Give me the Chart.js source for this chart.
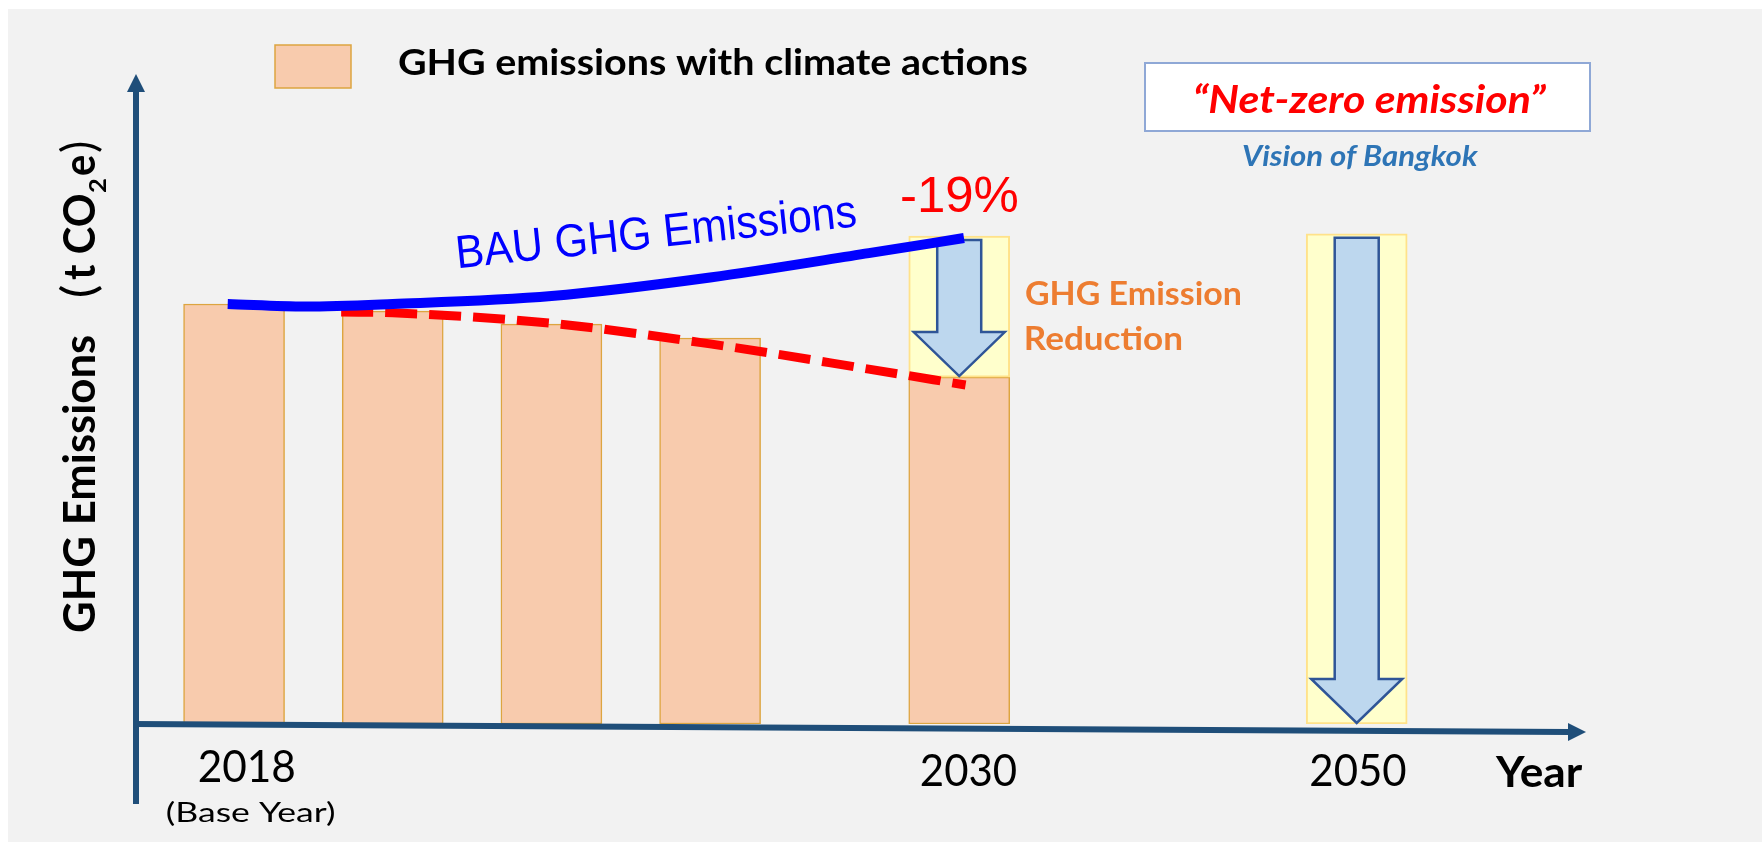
<!DOCTYPE html>
<html><head><meta charset="utf-8">
<script src="https://cdn.jsdelivr.net/npm/chart.js@4.4.1/dist/chart.umd.min.js"></script>
<style>html,body{margin:0;padding:0;background:#fff;overflow:hidden}canvas{display:block}</style>
</head><body>
<canvas id="c" width="1762" height="842"></canvas>
<script>
// ---- data (schematic units: 2018 base year = 100) ----
const barLabel = 'GHG emissions with climate actions';
const barPositions = [0, 1, 2, 3, 4.57];
const barValues = [100, 98.3, 95.2, 91.9, 82.6];
const reductionPositions = [4.57, 7.075];
const reductionLow = [82.6, 0];
const reductionHigh = [116.2, 116.7];
const bauLabel = 'BAU GHG Emissions';
const bauPositions = [-0.04, 0.45, 1, 2, 3, 4, 4.6];
const bauValues = [100, 99.4, 100, 101.9, 106.3, 112.1, 115.7];
const actionPositions = [0.675, 1, 2, 3, 4, 4.61];
const actionValues = [98.1, 97.9, 95.4, 90.5, 84.5, 80.7];
const tickPositions = [0, 4.57, 7.075];
const tickLabels = ['2018', '2030', '2050'];
const baseYearNote = '(Base Year)';
const xTitle = 'Year';
const yTitleMain = 'GHG Emissions';
const reductionText = ['GHG Emission', 'Reduction'];
const reductionPct = '-19%';
const visionQuote = '\u201cNet-zero emission\u201d';
const visionCaption = 'Vision of Bangkok';

// ---- helpers ----
function fitText(ctx, str, o) {
  ctx.save();
  const fam = o.family || 'Lato';
  const fs = s => `${o.style || 'normal'} ${o.weight || 'normal'} ${s}px ${fam}`;
  let size = o.size;
  if (!size) {
    ctx.font = fs(100);
    const capRef = ctx.measureText(o.capChar || 'H').actualBoundingBoxAscent;
    size = o.cap / capRef * 100;
  }
  ctx.font = fs(size);
  const m = ctx.measureText(str);
  const inkW = m.actualBoundingBoxLeft + m.actualBoundingBoxRight;
  const sx = o.w ? o.w / inkW : 1;
  let left = o.x;
  if (o.align === 'center') left = o.x - (o.w || inkW) / 2;
  ctx.translate(left, o.y);
  if (o.angle) ctx.rotate(o.angle);
  ctx.scale(sx, 1);
  ctx.fillStyle = o.color || '#000';
  ctx.textBaseline = 'alphabetic';
  ctx.textAlign = 'left';
  ctx.fillText(str, m.actualBoundingBoxLeft, 0);
  ctx.restore();
  return { size, width: inkW * sx };
}

function drawDownArrow(ctx, cx, top, tip) {
  const shaftHalf = 22, headHalf = 45.5, headH = 44;
  ctx.save();
  ctx.beginPath();
  ctx.moveTo(cx - shaftHalf, top);
  ctx.lineTo(cx + shaftHalf, top);
  ctx.lineTo(cx + shaftHalf, tip - headH);
  ctx.lineTo(cx + headHalf, tip - headH);
  ctx.lineTo(cx, tip);
  ctx.lineTo(cx - headHalf, tip - headH);
  ctx.lineTo(cx - shaftHalf, tip - headH);
  ctx.closePath();
  ctx.fillStyle = '#BDD7EE';
  ctx.fill();
  ctx.lineWidth = 2.5;
  ctx.strokeStyle = '#2F5597';
  ctx.lineJoin = 'miter';
  ctx.stroke();
  ctx.restore();
}

const AXIS = '#1F4E79';

const decor = {
  id: 'decor',
  beforeDraw(chart) {
    const ctx = chart.ctx;
    ctx.save();
    ctx.fillStyle = '#ffffff';
    ctx.fillRect(0, 0, chart.width, chart.height);
    ctx.fillStyle = '#F2F2F2';
    ctx.fillRect(8, 9, chart.width - 8, chart.height - 9);
    ctx.restore();
  },
  afterDatasetDraw(chart, args) {
    const ds = chart.data.datasets[args.index];
    if (ds.id !== 'reduction') return;
    const ctx = chart.ctx;
    args.meta.data.forEach(el => {
      const top = Math.min(el.y, el.base);
      const bot = Math.max(el.y, el.base);
      drawDownArrow(ctx, el.x, top + 4, bot - 1);
    });
  },
  afterDatasetsDraw(chart) {
    const ctx = chart.ctx;
    const a = chart.chartArea;
    ctx.save();
    ctx.fillStyle = AXIS;
    ctx.strokeStyle = AXIS;
    // y axis
    ctx.lineWidth = 6;
    ctx.beginPath();
    ctx.moveTo(a.left, 91);
    ctx.lineTo(a.left, 804);
    ctx.stroke();
    ctx.beginPath();
    ctx.moveTo(a.left, 74);
    ctx.lineTo(a.left + 9, 92);
    ctx.lineTo(a.left - 9, 92);
    ctx.closePath();
    ctx.fill();
    // x axis (slightly sloped as in the reference)
    ctx.beginPath();
    ctx.moveTo(a.left - 3, a.bottom);
    ctx.lineTo(a.right - 17, a.bottom + 8);
    ctx.stroke();
    ctx.beginPath();
    ctx.moveTo(a.right, a.bottom + 8);
    ctx.lineTo(a.right - 18, a.bottom - 1);
    ctx.lineTo(a.right - 18, a.bottom + 17);
    ctx.closePath();
    ctx.fill();
    ctx.restore();
  },
  afterDraw(chart) {
    const ctx = chart.ctx;
    const xs = chart.scales.x;
    // legend
    ctx.save();
    ctx.fillStyle = '#F8CBAD';
    ctx.fillRect(275, 45, 76, 43);
    ctx.strokeStyle = '#DDA540';
    ctx.lineWidth = 1.5;
    ctx.strokeRect(275, 45, 76, 43);
    ctx.restore();
    fitText(ctx, chart.data.datasets[0].label, { x: 399, y: 75, w: 628, cap: 26, weight: 'bold' });

    // vision box
    ctx.save();
    ctx.fillStyle = '#ffffff';
    ctx.fillRect(1145, 63, 445, 68);
    ctx.strokeStyle = '#8FA8D6';
    ctx.lineWidth = 2;
    ctx.strokeRect(1145, 63, 445, 68);
    ctx.restore();
    fitText(ctx, visionQuote, { x: 1195, y: 113, w: 351, cap: 27, weight: 'bold', style: 'italic', color: '#FF0000' });
    fitText(ctx, visionCaption, { x: 1243, y: 166, w: 236, cap: 21, weight: 'bold', style: 'italic', color: '#2E75B6' });

    // reduction note
    fitText(ctx, reductionText[0], { x: 1026, y: 305, w: 214, cap: 23, weight: 'bold', color: '#ED7D31' });
    fitText(ctx, reductionText[1], { x: 1026, y: 350, w: 155, cap: 23, weight: 'bold', color: '#ED7D31' });
    fitText(ctx, reductionPct, { x: 902, y: 212, w: 116, cap: 34, family: 'Liberation Sans', color: '#FF0000' });

    // BAU label
    fitText(ctx, chart.data.datasets[3].label, { x: 460, y: 268, w: 399, cap: 32, family: 'Liberation Sans', color: '#0000FF', angle: -6 * Math.PI / 180 });

    // x tick labels
    const nudges = [13, 10, 2];
    const bases = [782, 786, 786];
    tickLabels.forEach((t, i) => {
      const cx = xs.getPixelForValue(tickPositions[i]) + nudges[i];
      fitText(ctx, t, { x: cx, y: bases[i], w: 95, cap: 32, align: 'center' });
    });
    fitText(ctx, baseYearNote, { x: xs.getPixelForValue(tickPositions[0]) + 17, y: 822, w: 168, cap: 20, align: 'center' });
    fitText(ctx, xTitle, { x: 1495, y: 787, w: 88, cap: 30, weight: 'bold' });

    // y title (rotated)
    const R = -Math.PI / 2;
    const main = fitText(ctx, yTitleMain, { x: 95, y: 632, w: 296, cap: 32, weight: 'bold', angle: R });
    fitText(ctx, '(', { x: 95, y: 296, w: 10, size: main.size * 1.05, angle: R });
    fitText(ctx, 't CO', { x: 95, y: 280, w: 85, cap: 32, weight: 'bold', angle: R });
    fitText(ctx, '2', { x: 106, y: 193, w: 14, cap: 16, weight: 'bold', angle: R });
    fitText(ctx, 'e', { x: 95, y: 175, w: 20, size: main.size, weight: 'bold', angle: R });
    fitText(ctx, ')', { x: 95, y: 152, w: 10, size: main.size * 1.05, angle: R });
  }
};

const pts = (xs, ys) => xs.map((x, i) => ({ x, y: ys[i] }));

new Chart(document.getElementById('c'), {
  type: 'bar',
  data: {
    datasets: [
      {
        id: 'bars', label: barLabel,
        data: pts(barPositions, barValues),
        backgroundColor: '#F8CBAD', borderColor: '#DDA540', borderWidth: 1.5,
        borderSkipped: false, barThickness: 101, grouped: false, order: 4
      },
      {
        id: 'reduction', label: 'Reduction',
        data: reductionPositions.map((x, i) => ({ x, y: [reductionLow[i], reductionHigh[i]] })),
        backgroundColor: '#FFFFCC', borderColor: '#FFE28A', borderWidth: 2,
        borderSkipped: false, barThickness: 101, grouped: false, order: 3
      },
      {
        id: 'action', type: 'line', label: 'Pathway with climate actions',
        data: pts(actionPositions, actionValues),
        borderColor: '#FF0000', borderWidth: 9, borderDash: [32, 12], borderCapStyle: 'butt',
        pointRadius: 0, fill: false, cubicInterpolationMode: 'monotone', order: 2
      },
      {
        id: 'bau', type: 'line', label: bauLabel,
        data: pts(bauPositions, bauValues),
        borderColor: '#0000FF', borderWidth: 10, borderCapStyle: 'butt',
        pointRadius: 0, fill: false, cubicInterpolationMode: 'monotone', order: 1
      }
    ]
  },
  options: {
    responsive: false,
    animation: false,
    devicePixelRatio: 1,
    events: [],
    layout: { padding: { left: 136, right: 176, top: 220, bottom: 118 } },
    scales: {
      x: { type: 'linear', min: -0.618, max: 8.52, display: false, offset: false },
      y: { type: 'linear', min: 0, max: 120, display: false }
    },
    plugins: { legend: { display: false }, tooltip: { enabled: false } }
  },
  plugins: [decor]
});
</script>
</body></html>
